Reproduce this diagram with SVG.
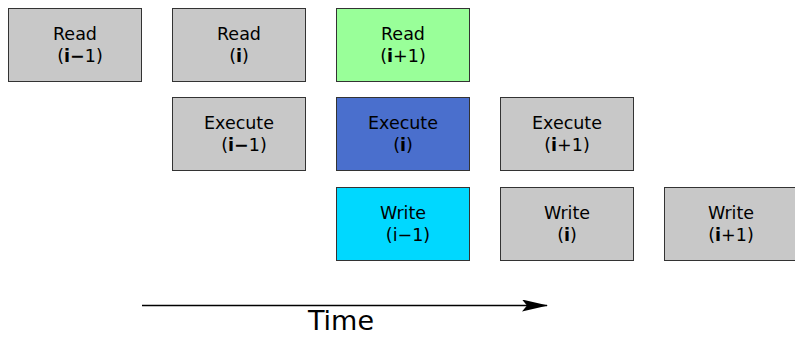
<svg xmlns="http://www.w3.org/2000/svg" width="795" height="337" viewBox="0 0 795 337">
  <style>
    .box { stroke: #333333; stroke-width: 1; }
    .gray { fill: #c8c8c8; }
    .green { fill: #99ff99; }
    .blue { fill: #4a6fcd; }
    .cyan { fill: #00d8ff; }
    text { font-family: "DejaVu Sans", Verdana, sans-serif; font-size: 17.5px; fill: #000000; text-anchor: middle; }
    .b { font-weight: bold; }
    .time { font-size: 27px; }
  </style>
  <defs>
    <marker id="arrowhead" viewBox="0 0 26 12" refX="25" refY="6" markerWidth="26" markerHeight="12" markerUnits="userSpaceOnUse" orient="auto">
      <path d="M0,0 L26,6 L0,12 L5,6 Z" fill="#000000"/>
    </marker>
  </defs>

  <!-- Read stage -->
  <g id="read-im1">
    <rect class="box gray" x="8.5" y="8.5" width="133" height="73"/>
    <text x="75" y="40">Read</text>
    <text x="80" y="62">(<tspan class="b">i−</tspan>1)</text>
  </g>
  <g id="read-i">
    <rect class="box gray" x="172.5" y="8.5" width="133" height="73"/>
    <text x="239" y="40">Read</text>
    <text x="239" y="62">(<tspan class="b">i</tspan>)</text>
  </g>
  <g id="read-ip1">
    <rect class="box green" x="336.5" y="8.5" width="133" height="73"/>
    <text x="403" y="40">Read</text>
    <text x="403" y="62">(<tspan class="b">i</tspan>+1)</text>
  </g>

  <!-- Execute stage -->
  <g id="execute-im1">
    <rect class="box gray" x="172.5" y="97.5" width="133" height="73"/>
    <text x="239" y="129">Execute</text>
    <text x="244" y="151">(<tspan class="b">i−</tspan>1)</text>
  </g>
  <g id="execute-i">
    <rect class="box blue" x="336.5" y="97.5" width="133" height="73"/>
    <text x="403" y="129">Execute</text>
    <text x="403" y="151">(<tspan class="b">i</tspan>)</text>
  </g>
  <g id="execute-ip1">
    <rect class="box gray" x="500.5" y="97.5" width="133" height="73"/>
    <text x="567" y="129">Execute</text>
    <text x="567" y="151">(<tspan class="b">i</tspan>+1)</text>
  </g>

  <!-- Write stage -->
  <g id="write-im1">
    <rect class="box cyan" x="336.5" y="187.5" width="133" height="73"/>
    <text x="403" y="219">Write</text>
    <text x="408" y="241">(i−1)</text>
  </g>
  <g id="write-i">
    <rect class="box gray" x="500.5" y="187.5" width="133" height="73"/>
    <text x="567" y="219">Write</text>
    <text x="567" y="241">(<tspan class="b">i</tspan>)</text>
  </g>
  <g id="write-ip1">
    <rect class="box gray" x="664.5" y="187.5" width="133" height="73"/>
    <text x="731" y="219">Write</text>
    <text x="731" y="241">(<tspan class="b">i</tspan>+1)</text>
  </g>

  <!-- Time axis -->
  <g id="connectors">
    <line x1="142" y1="305.5" x2="547" y2="305.5" stroke="#000000" stroke-width="1.5" marker-end="url(#arrowhead)"/>
  </g>
  <text class="time" x="341" y="330">Time</text>
</svg>
